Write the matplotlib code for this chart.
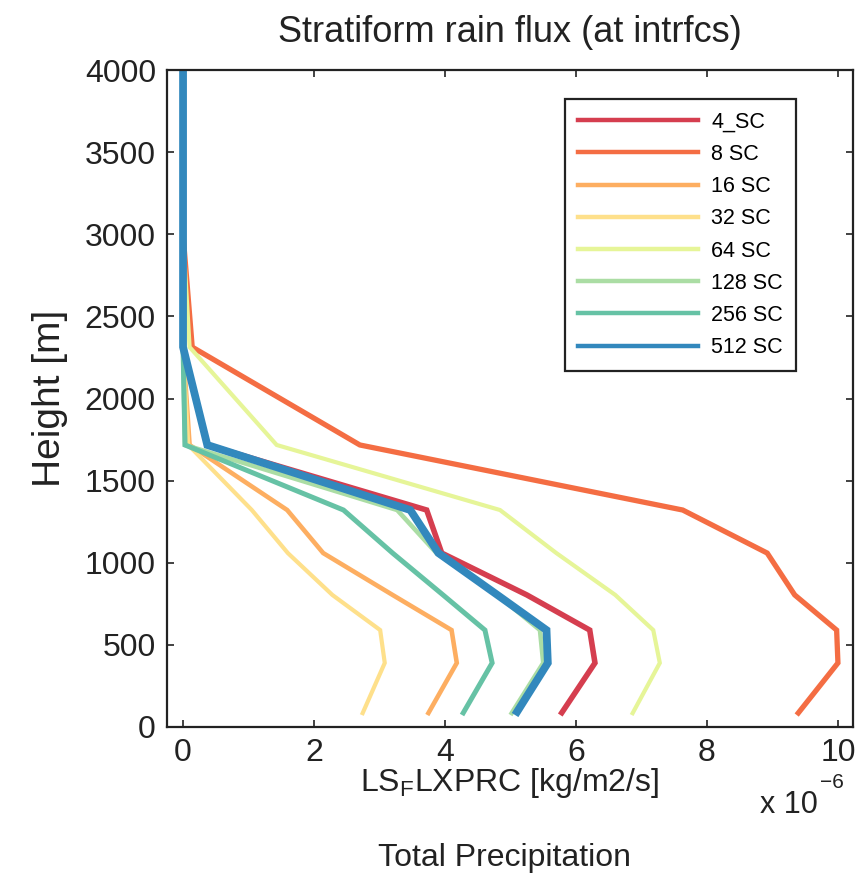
import matplotlib
matplotlib.use("Agg")
import matplotlib.pyplot as plt
from matplotlib.lines import Line2D

plt.rcParams['font.family'] = ['Liberation Sans', 'DejaVu Sans']
plt.rcParams['mathtext.fontset'] = 'custom'
plt.rcParams['mathtext.rm'] = 'Liberation Sans'

# Interface heights [m]
heights = [73, 390, 590, 804, 1059, 1321, 1717, 2313, 3000, 4000]

# Stratiform rain flux per subcolumn count, in units of 1e-6 kg/m2/s
labels = ['4_SC', '8 SC', '16 SC', '32 SC', '64 SC', '128 SC', '256 SC', '512 SC']
flux_4 = [5.76, 6.29, 6.21, 5.25, 3.95, 3.72, 0.37, 0.0, 0.0, 0.0]
flux_8 = [9.37, 10.0, 9.98, 9.34, 8.92, 7.63, 2.70, 0.14, 0.0, 0.0]
flux_16 = [3.73, 4.18, 4.10, 3.20, 2.14, 1.59, 0.10, 0.0, 0.0, 0.0]
flux_32 = [2.73, 3.08, 3.01, 2.28, 1.60, 1.05, 0.08, 0.0, 0.0, 0.0]
flux_64 = [6.85, 7.28, 7.18, 6.60, 5.70, 4.84, 1.43, 0.10, 0.0, 0.0]
flux_128 = [5.00, 5.50, 5.45, 4.80, 3.87, 3.27, 0.03, 0.0, 0.0, 0.0]
flux_256 = [4.26, 4.72, 4.61, 3.97, 3.20, 2.45, 0.03, 0.0, 0.0, 0.0]
flux_512 = [5.07, 5.57, 5.55, 4.80, 3.90, 3.47, 0.37, 0.0, 0.0, 0.0]
series = [flux_4, flux_8, flux_16, flux_32, flux_64, flux_128, flux_256, flux_512]

colors = ['#d53e4f', '#f46d43', '#fdae61', '#fee08b',
          '#e6f598', '#abdda4', '#66c2a5', '#3288bd']
widths = [4.0, 3.8, 3.3, 3.0, 3.0, 3.3, 3.6, 5.6]

x_ticks = [0, 2, 4, 6, 8, 10]
y_ticks = list(range(0, 4001, 500))

ink = '#222222'

fig = plt.figure(figsize=(8.62, 8.84), dpi=100)
ax = fig.add_axes([167 / 862, 1 - 727 / 884, 686 / 862, 657 / 884])

for vals, col, lw in zip(series, colors, widths):
    ax.plot(vals, heights, color=col, lw=lw, solid_joinstyle='miter',
            solid_capstyle='butt')

ax.set_xlim(-0.245, 10.23)
ax.set_ylim(0, 4000)
ax.set_xticks(x_ticks)
ax.set_xticklabels([str(t) for t in x_ticks])
ax.set_yticks(y_ticks)
ax.set_yticklabels([str(t) for t in y_ticks])
ax.tick_params(direction='in', length=5, width=1.2, labelsize=23,
               top=True, right=True, colors=ink, pad=8)
for sp in ax.spines.values():
    sp.set_linewidth(1.6)
    sp.set_color(ink)

handles = [Line2D([], [], color=c, lw=3.2) for c in colors]
leg = ax.legend(handles, labels, loc='upper left',
                bbox_to_anchor=(0.580, 0.956), borderaxespad=0,
                fontsize=15.5, handlelength=5.6, handletextpad=0.6,
                labelspacing=0.52, borderpad=0.6, fancybox=False,
                framealpha=1)
leg.get_frame().set_edgecolor(ink)
leg.get_frame().set_linewidth(1.6)

ax.set_title('Stratiform rain flux (at intrfcs)', fontsize=26, pad=20,
             color=ink)
ax.set_ylabel('Height [m]', fontsize=28, color=ink, labelpad=12)

fig.text(510 / 862, 1 - 783 / 884, r'LS$_\mathrm{F}$LXPRC [kg/m2/s]',
         ha='center', va='center', fontsize=23, color=ink)
fig.text(505 / 862, 1 - 858 / 884, 'Total Precipitation',
         ha='center', va='center', fontsize=23, color=ink)
fig.text(818 / 862, 1 - 805 / 884, 'x 10',
         ha='right', va='center', fontsize=22, color=ink)
fig.text(820 / 862, 1 - 783 / 884, '\u22126',
         ha='left', va='center', fontsize=15, color=ink)

fig.savefig('out.png', dpi=100)
